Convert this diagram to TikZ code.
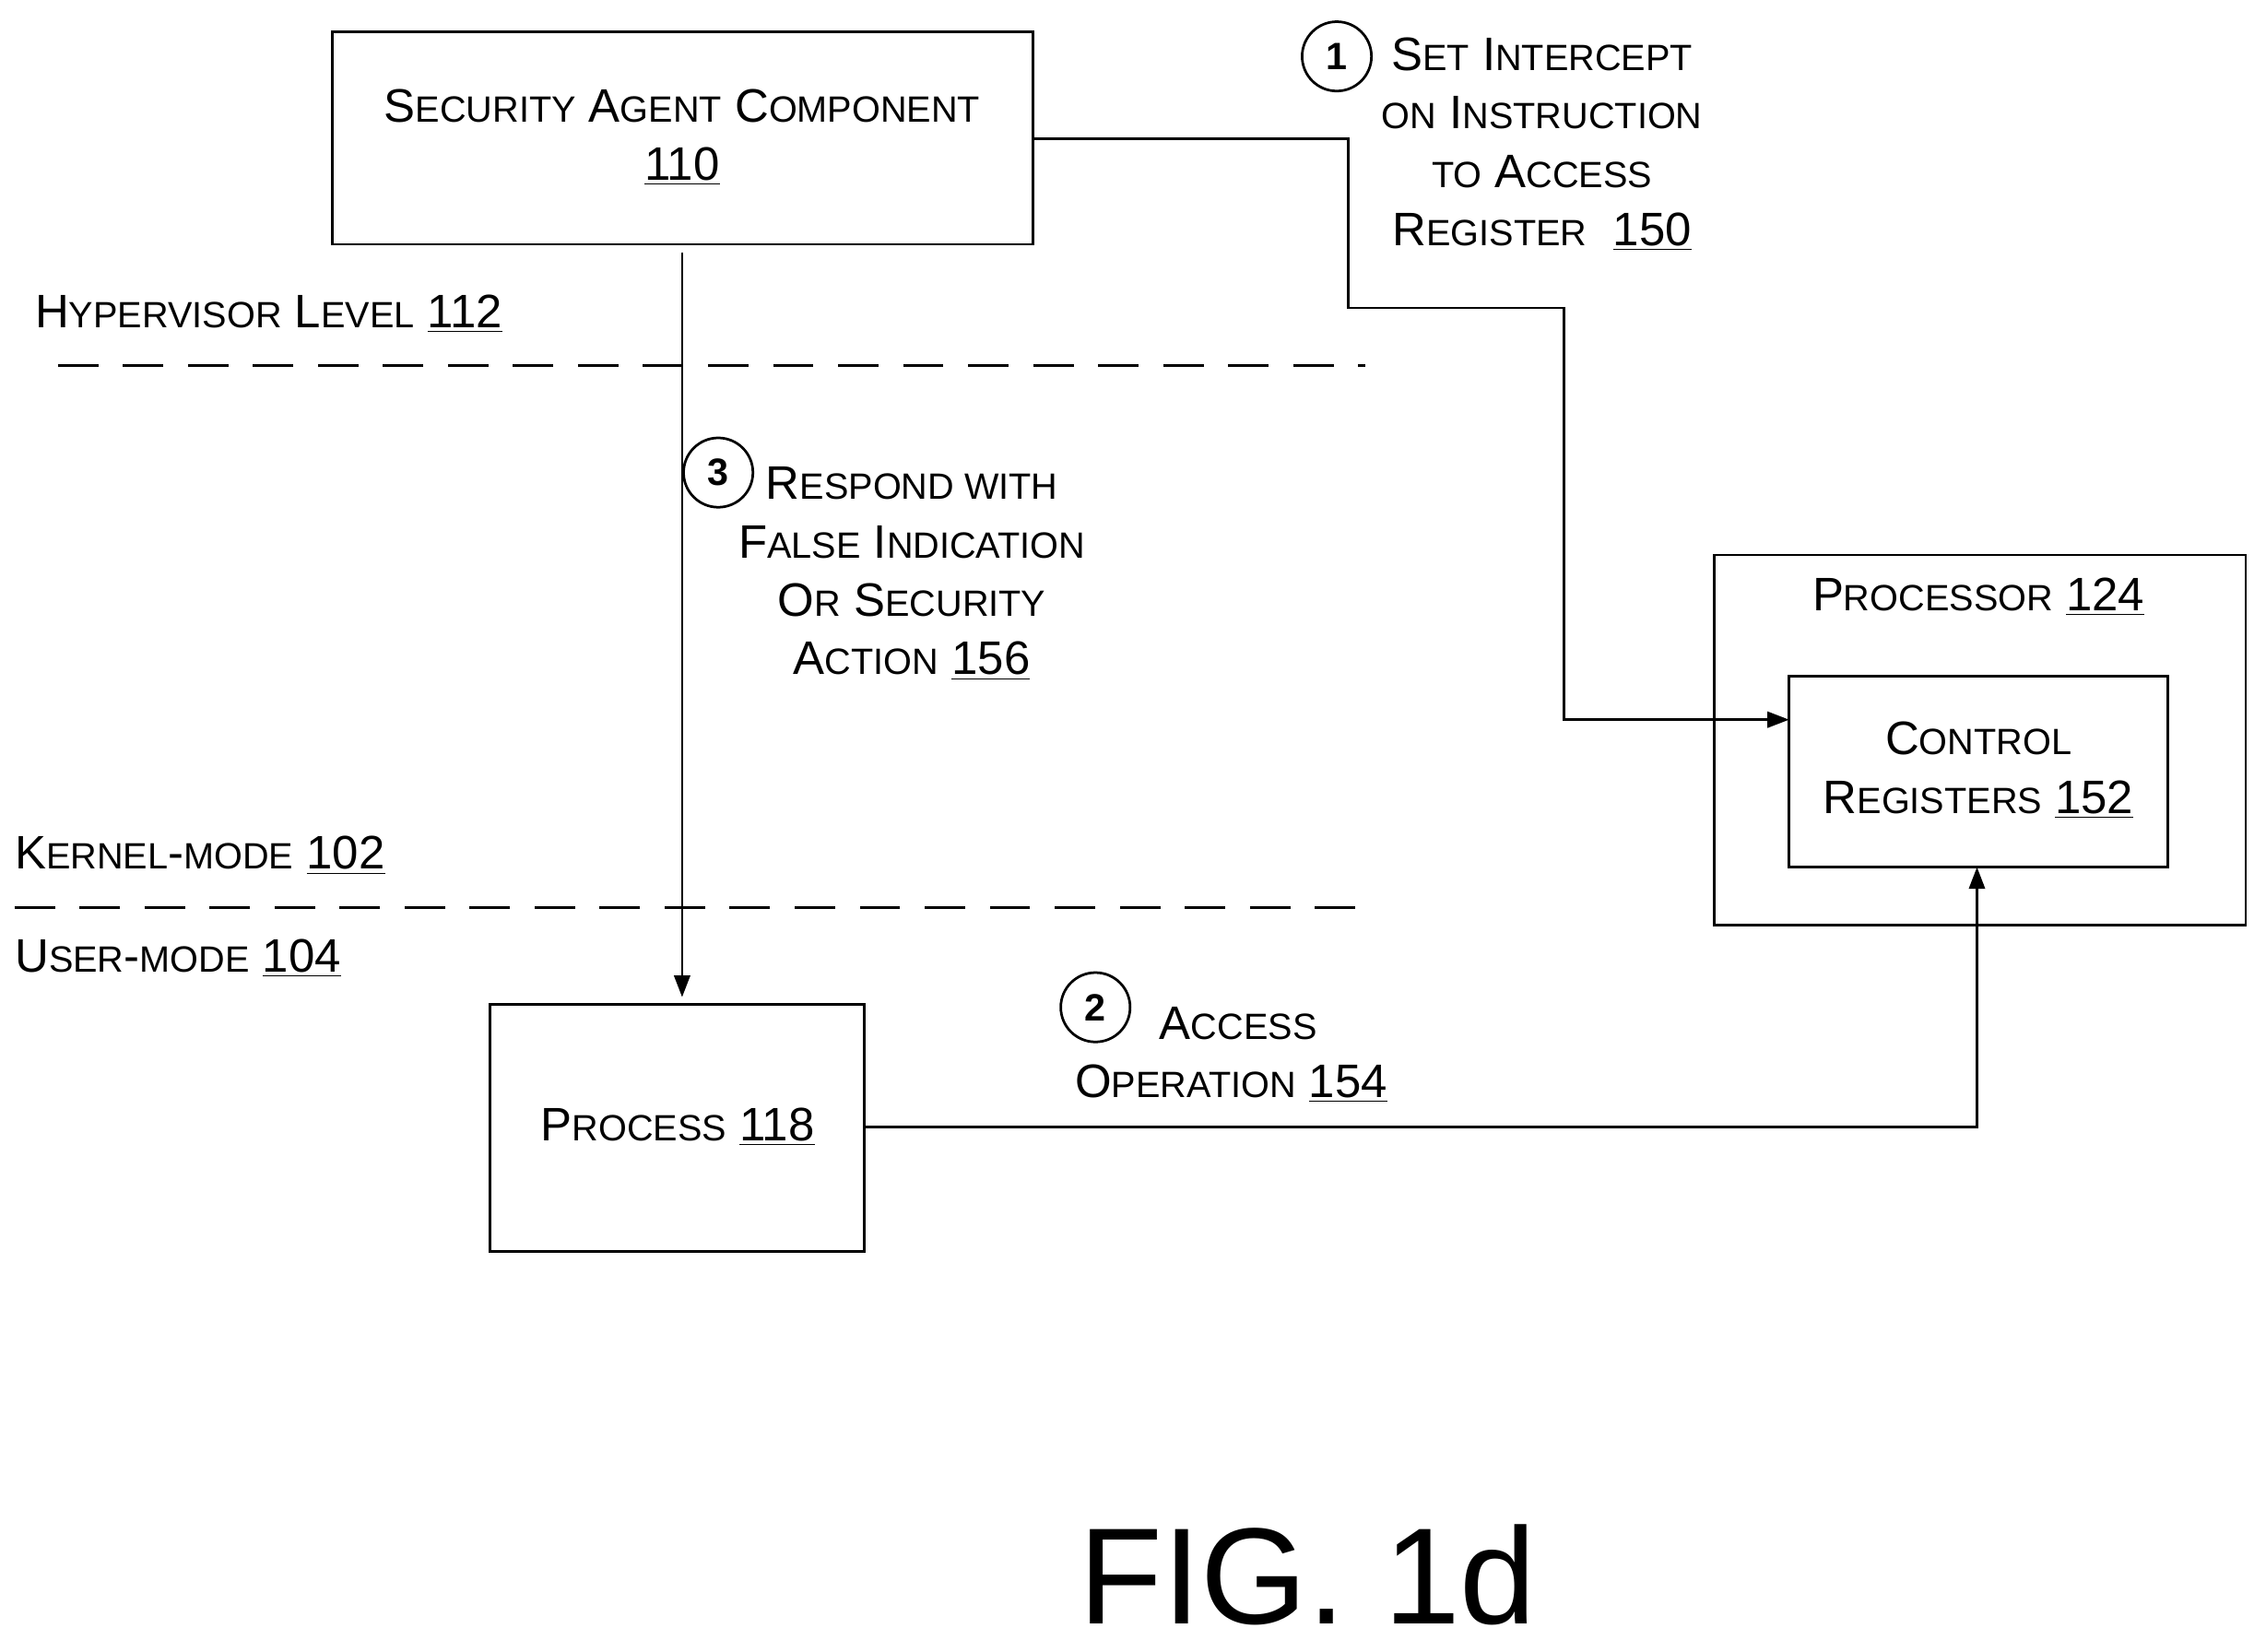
\documentclass[tikz,border=0pt]{standalone}
\usepackage{fontspec}
\setmainfont{Liberation Sans}
\usetikzlibrary{arrows.meta}
\newcommand\sm[1]{{\fontsize{14.4}{15}\selectfont #1}}
\newcommand\ul[1]{\underline{#1}}
\begin{document}
\begin{tikzpicture}[x=0.02cm,y=-0.02cm,
  box/.style={draw,line width=1pt},
  lbl/.style={font=\fontsize{18.5}{21}\selectfont,align=center,inner sep=0},
  circ/.style={draw,circle,line width=1pt,minimum size=0.96cm,inner sep=0,font=\fontsize{15}{18}\selectfont\bfseries},
  dashln/.style={line width=1pt,dash pattern=on 0.56cm off 0.34cm},
  conn/.style={line width=1pt},
  arr/.style={conn,-{Triangle[length=0.3cm,width=0.22cm]}}]
\useasboundingbox (0,0) rectangle (1568,1143);
\draw[box] (230,22) rectangle (715,169);
\node[lbl] (sa) at (472,95) {S\sm{ECURITY} A\sm{GENT} C\sm{OMPONENT}\\[2pt]\ul{110}};
\draw[box] (1186,384) rectangle (1554,640);
\node[lbl] (proc) at (1369,413) {P\sm{ROCESSOR} \ul{124}};
\draw[box] (1238,468) rectangle (1500,600);
\node[lbl] (cr) at (1369,533) {C\sm{ONTROL}\\[2pt]R\sm{EGISTERS} \ul{152}};
\draw[box] (339,695) rectangle (598,866);
\node[lbl] (p) at (469,780) {P\sm{ROCESS} \ul{118}};
\coordinate (d1a) at (40,253); \coordinate (d1b) at (945,253);
\coordinate (d2a) at (10,628); \coordinate (d2b) at (945,628);
\draw[dashln] (d1a) -- (d1b);
\draw[dashln] (d2a) -- (d2b);
\node[lbl,anchor=west] (hl) at (24,217) {H\sm{YPERVISOR} L\sm{EVEL} \ul{112}};
\node[lbl,anchor=west] (km) at (10,592) {K\sm{ERNEL}-\sm{MODE} \ul{102}};
\node[lbl,anchor=west] (um) at (10,663) {U\sm{SER}-\sm{MODE} \ul{104}};
\coordinate (s1) at (715,96);
\coordinate (e1) at (1238,498);
\draw[arr] (s1) -- (933,96) -- (933,213) -- (1082,213) -- (1082,498) -- (e1);
\coordinate (s3) at (472,175);
\coordinate (e3) at (472,690);
\draw[arr] (s3) -- (e3);
\coordinate (s2) at (598,780);
\coordinate (e2) at (1368,600);
\draw[arr] (s2) -- (1368,780) -- (e2);
\node[circ] (c1) at (925,39) {1};
\node[circ] (c2) at (758,697) {2};
\node[circ] (c3) at (497,327) {3};
\node[lbl,align=center] (l1) at (1067,100) {S\sm{ET} I\sm{NTERCEPT}\\[2pt]\sm{ON} I\sm{NSTRUCTION}\\[2pt]\sm{TO} A\sm{CCESS}\\[2pt]R\sm{EGISTER}\ \ \ul{150}};
\node[lbl,align=center] (l3) at (631,397) {R\sm{ESPOND WITH}\\[2pt]F\sm{ALSE} I\sm{NDICATION}\\[2pt]O\sm{R} S\sm{ECURITY}\\[2pt]A\sm{CTION} \ul{156}};
\node[lbl,align=center] (l2) at (852,730) {\hspace*{0.3em}A\sm{CCESS}\\[2pt]O\sm{PERATION} \ul{154}};
\node[inner sep=0,font=\fontsize{54}{56}\selectfont] (fig) at (905,1090) {FIG. 1d};
\end{tikzpicture}
\end{document}
